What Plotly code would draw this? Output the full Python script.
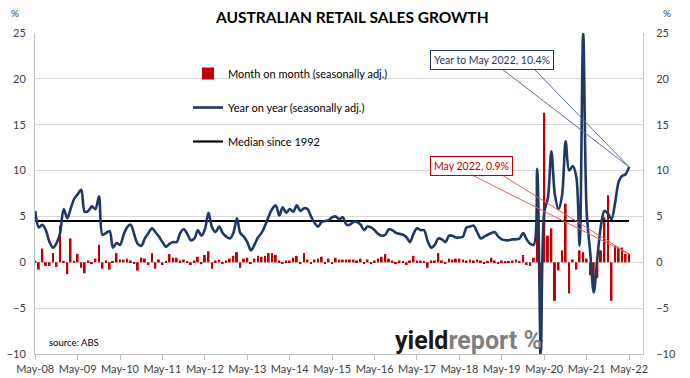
import pandas as pd
import plotly.graph_objects as go

# ---------------- data ----------------
START = "2008-05-01"
N_MONTHS = 169  # May-08 .. May-22

MOM = [
    0.2, -0.8, 1.5, -0.4, -0.4, 1.0, -0.5, 4.0, 0.1, -1.3, 2.6, 0.1,
    0.9, -0.6, -1.2, 0.2, -0.1, 0.4, 1.9, -0.7, 0.2, -0.8, 0.1, 1.0,
    0.3, 0.3, 0.4, 0.2, -0.1, -0.9, 0.5, 0.4, -0.3, 1.0, -0.7, 0.3,
    -0.3, 0.1, 0.9, 0.5, 0.5, 0.2, 0.3, 0.05, -0.3, 0.2, 0.6, -0.2,
    0.8, 1.2, -0.7, 0.2, 0.3, -0.2, 0.2, 0.4, 0.7, 1.1, -0.6, 0.4,
    0.5, -0.1, 0.4, 0.7, 0.6, 0.7, 1.0, 1.0, 0.8, 0.2, -0.1, 0.2,
    0.2, 0.5, 0.7, -0.2, 1.0, 0.3, -0.1, 0.3, 0.4, 0.6, -0.1, 0.4,
    -0.1, 0.5, 0.3, 0.3, 0.3, 0.3, 0.3, 0.2, 0.4, -0.1, 0.3, -0.2,
    0.2, 0.4, 0.6, 0.9, 0.4, 0.2, -0.2, 0.2, 0.1, -0.3, 0.2, 0.7,
    0.2, 0.2, 0.1, -0.6, 0.2, 0.2, 1.0, 0.2, -0.1, 0.4, 0.3, 0.4,
    0.4, 0.3, 0.2, 0.3, 0.2, 0.3, 0.2, -0.1, 0.1, 0.5, 0.2, -0.1,
    0.2, 0.1, 0.1, 0.2, 0.3, 0.1, 0.8, -0.3, -0.4, 0.5, 8.2, -17.7,
    16.3, 2.9, 3.7, -4.2, -0.9, 1.3, 6.4, -3.4, 0.3, -0.8, 1.3, 1.1,
    0.4, -1.4, -2.5, -1.7, 1.3, 4.9, 7.3, -4.2, 1.8, 1.6, 1.6, 0.9,
    0.9,
]

YOY = [
    5.6, 3.8, 4.1, 3.5, 2.2, 1.6, 2.1, 3.2, 5.8, 4.8, 5.8, 6.9,
    7.4, 7.9, 5.5, 5.6, 6.1, 5.8, 7.2, 3.0, 3.2, 3.4, 1.6, 2.1,
    1.9, 3.0, 3.8, 4.1, 3.0, 2.0, 1.8, 2.6, 3.2, 3.7, 3.3, 2.8,
    2.2, 1.7, 2.0, 2.2, 2.2, 3.2, 3.6, 3.1, 2.4, 2.6, 3.5, 2.9,
    3.6, 5.4, 3.8, 3.3, 3.9, 3.2, 2.8, 2.6, 3.2, 4.8, 3.2, 2.8,
    2.2, 1.3, 1.9, 2.7, 3.2, 4.0, 5.0, 5.8, 6.2, 5.1, 6.0, 5.4,
    5.8, 5.5, 6.2, 5.6, 5.9, 5.8, 5.0, 4.3, 3.9, 4.4, 4.5, 4.6,
    4.9, 5.0, 4.7, 4.9, 4.1, 4.1, 4.4, 4.4, 4.1, 3.5, 3.9, 3.8,
    3.5, 3.1, 2.9, 3.0, 3.6, 3.5, 3.2, 3.1, 3.0, 2.7, 2.2, 3.1,
    3.7, 3.5, 3.5, 2.3, 1.6, 1.9, 2.6, 2.5, 2.2, 2.9, 2.9, 2.7,
    2.7, 2.8, 3.8, 3.9, 4.0, 3.3, 2.6, 2.8, 3.0, 3.2, 3.3, 2.8,
    2.5, 2.4, 2.4, 2.5, 2.5, 2.6, 3.2, 2.5, 2.0, 1.9, 10.2, -9.8,
    5.5, 7.0, 12.1, 7.3, 5.8, 7.3, 13.2, 10.0, 10.5, 9.3, 1.8, 25.0,
    5.5, 1.0, -3.3, 0.5, 4.0, 5.6, 5.3, 4.7, 6.5, 8.8, 9.4, 9.6,
    10.4,
]

MEDIAN = 4.5

SERIES_NAMES = ["Month on month (seasonally adj.)",
                "Year on year (seasonally adj.)",
                "Median since 1992"]
TITLE = "AUSTRALIAN RETAIL SALES GROWTH"
Y_TICKS = [-10, -5, 0, 5, 10, 15, 20, 25]
X_RANGE = ["2008-04-29", "2022-08-29"]
Y_RANGE = [-10, 25]

dates = pd.date_range(START, periods=N_MONTHS, freq="MS")

# ---------------- styles ----------------
RED = "#c00000"
NAVY = "#1f3864"
GRID = "#d9d9d9"
AXIS = "#bfbfbf"
TXT = "#404040"
FONT = "Lato"

W, H = 690, 378
PL, PR, PT, PB = 35, 643, 33, 354  # plot area in pixels


def px_x(p):
    return (p - PL) / (PR - PL)


def px_y(p):
    return (PB - p) / (PB - PT)


def date_to_paper(d):
    t0 = pd.Timestamp(X_RANGE[0]).value
    t1 = pd.Timestamp(X_RANGE[1]).value
    return (pd.Timestamp(d).value - t0) / (t1 - t0)


def val_to_paper(v):
    return (v - Y_RANGE[0]) / (Y_RANGE[1] - Y_RANGE[0])


def note(px, py, text, size, color, xanchor="center", **kw):
    return dict(xref="paper", yref="paper", x=px_x(px), y=px_y(py), text=text,
                showarrow=False, xanchor=xanchor, yanchor="middle",
                font=dict(family=kw.pop("family", FONT), size=size, color=color), **kw)


fig = go.Figure()

fig.add_trace(go.Bar(
    x=dates, y=MOM, name=SERIES_NAMES[0], marker_color=RED,
    marker_line_width=0, legendgroup="a", legendrank=1,
))
fig.add_trace(go.Scatter(
    x=[dates[0], dates[-1]], y=[MEDIAN, MEDIAN], mode="lines",
    name=SERIES_NAMES[2], line=dict(color="black", width=2.2),
    legendgroup="c", legendrank=3,
))
fig.add_trace(go.Scatter(
    x=dates, y=YOY, mode="lines", name=SERIES_NAMES[1],
    line=dict(color=NAVY, width=2.6, shape="spline", smoothing=0.9),
    legendgroup="b", legendrank=2,
))
# invisible trace to carry the right-hand axis
fig.add_trace(go.Scatter(
    x=[dates[0]], y=[0], yaxis="y2", mode="markers",
    marker=dict(opacity=0), showlegend=False, hoverinfo="skip",
))

shapes = []
annotations = []

tipx = date_to_paper(dates[-1])
tipy_yoy = val_to_paper(YOY[-1])
tipy_mom = val_to_paper(MOM[-1])

# callout: year on year
for bx in (502, 534):
    shapes.append(dict(type="line", xref="paper", yref="paper",
                       x0=px_x(bx), y0=px_y(69), x1=tipx, y1=tipy_yoy,
                       line=dict(color="#5b6f9a", width=1), layer="above"))
annotations.append(note(491.5, 60, f"Year to May 2022, {YOY[-1]}%", 10.5, NAVY,
                        bgcolor="white", bordercolor=NAVY, borderwidth=1, borderpad=3))

# callout: month on month
for bx in (472, 502):
    shapes.append(dict(type="line", xref="paper", yref="paper",
                       x0=px_x(bx), y0=px_y(175), x1=tipx, y1=tipy_mom,
                       line=dict(color="#e06060", width=1), layer="above"))
annotations.append(note(471.5, 166, f"May 2022, {MOM[-1]}%", 10.5, RED,
                        bgcolor="white", bordercolor=RED, borderwidth=1, borderpad=3))

# title, units, source, logo
annotations += [
    note(352, 17, f"<b>{TITLE}</b>", 15.5, "black"),
    note(15, 13, "%", 10, TXT),
    note(667, 13, "%", 10, TXT),
    note(47, 342, "source: ABS", 9.5, "black", xanchor="left"),
    note(393, 340,
         "<b>yield</b><span style='color:#7f7f7f'><b>report</b></span> "
         "<span style='color:#7f7f7f'><b>%</b></span>",
         25, "#1a1a1a", xanchor="left", family="Roboto"),
]

fig.update_layout(
    width=W, height=H,
    margin=dict(l=PL, r=W - PR, t=PT, b=H - PB, autoexpand=False),
    paper_bgcolor="white", plot_bgcolor="white",
    bargap=0.4,
    showlegend=True,
    legend=dict(x=px_x(188), y=px_y(59), xanchor="left", yanchor="top",
                bgcolor="rgba(0,0,0,0)", tracegroupgap=15,
                font=dict(family=FONT, size=11, color="black"),
                itemwidth=30),
    shapes=shapes,
    annotations=annotations,
    xaxis=dict(type="date", range=X_RANGE, tick0=START, dtick="M12",
               tickformat="%b-%y", ticks="outside", ticklen=5, tickcolor=AXIS,
               showline=True, linecolor=AXIS, showgrid=False, zeroline=False,
               automargin=False,
               tickfont=dict(family=FONT, size=11, color=TXT)),
    yaxis=dict(range=Y_RANGE, tickvals=Y_TICKS, showgrid=True, gridcolor=GRID,
               showline=True, linecolor=AXIS, zeroline=False, ticks="",
               ticklabelstandoff=6, automargin=False,
               tickfont=dict(family=FONT, size=11, color=TXT)),
    yaxis2=dict(range=Y_RANGE, tickvals=Y_TICKS, overlaying="y", side="right",
                showgrid=False, showline=True, linecolor=AXIS, zeroline=False,
                ticks="", ticklabelstandoff=10, automargin=False,
                tickfont=dict(family=FONT, size=11, color=TXT)),
)

fig.write_html("out.html", config={"displayModeBar": False},
               post_script="document.body.style.margin='0';")
